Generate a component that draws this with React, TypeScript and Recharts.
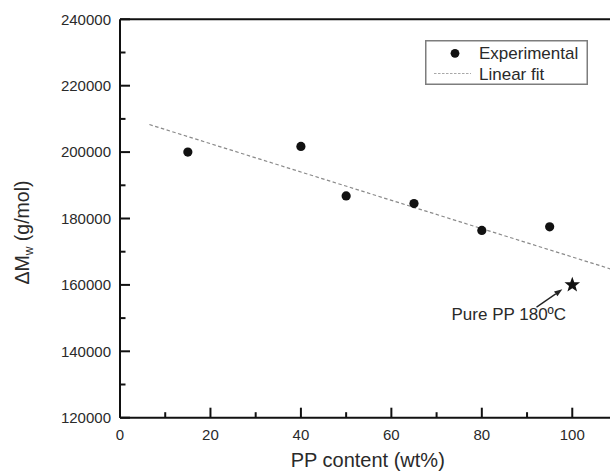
import React from 'react';
import {
  ScatterChart,
  Scatter,
  XAxis,
  YAxis,
  Legend,
  ReferenceDot,
} from 'recharts';

// Measured molecular-weight change versus PP content
const ppContent = [15, 40, 50, 65, 80, 95];
const deltaMw = [200000, 201700, 186800, 184500, 176400, 177500];

// Pure PP reference run at 180 °C
const purePPContent = [100];
const purePPDeltaMw = [160000];

// End points of the linear fit
const fitContent = [6.5, 110];
const fitDeltaMw = [208300, 164150];

// Axis ticks (minor + major)
const xTicks = [0, 10, 20, 30, 40, 50, 60, 70, 80, 90, 100, 110];
const yTicks = [
  120000, 130000, 140000, 150000, 160000, 170000, 180000, 190000, 200000,
  210000, 220000, 230000, 240000,
];
const xMajorStep = 20;
const yMajorStep = 20000;

// Annotation anchor points (data coordinates)
const noteText = 'Pure PP 180ºC';
const notePos = { x: 73.3, y: 149300 };
const arrowFrom = { x: 92.1, y: 153300 };
const arrowTo = { x: 97.8, y: 158675 };

const expData = ppContent.map((x, i) => ({ x, y: deltaMw[i] }));
const pureData = purePPContent.map((x, i) => ({ x, y: purePPDeltaMw[i] }));
const fitData = fitContent.map((x, i) => ({ x, y: fitDeltaMw[i] }));
const arrowData = [arrowFrom, arrowTo];

const FONT = '"Liberation Sans", Arial, Helvetica, sans-serif';
const INK = '#111';
const TEXT = '#2a2a2a';
const MAJOR = 10;
const MINOR = 5.5;

const BottomTick = (p: any) => {
  const v = p.payload.value;
  const major = v % xMajorStep === 0;
  return (
    <g>
      <line x1={p.x} x2={p.x} y1={p.y} y2={p.y - (major ? MAJOR : MINOR)} stroke={INK} strokeWidth={2} />
      {major && (
        <text x={p.x} y={p.y + 21.8} textAnchor="middle" fontSize={15} fill={TEXT} fontFamily={FONT}>
          {v}
        </text>
      )}
    </g>
  );
};

const TopTick = (p: any) => {
  const v = p.payload.value;
  const major = v % xMajorStep === 0;
  return <line x1={p.x} x2={p.x} y1={p.y} y2={p.y + (major ? MAJOR : MINOR)} stroke={INK} strokeWidth={2} />;
};

const LeftTick = (p: any) => {
  const v = p.payload.value;
  const major = v % yMajorStep === 0;
  return (
    <g>
      <line x1={p.x} x2={p.x + (major ? MAJOR : MINOR)} y1={p.y} y2={p.y} stroke={INK} strokeWidth={2} />
      {major && (
        <text x={p.x - 9} y={p.y + 5.3} textAnchor="end" fontSize={15} fill={TEXT} fontFamily={FONT}>
          {v}
        </text>
      )}
    </g>
  );
};

const RightTick = (p: any) => {
  const v = p.payload.value;
  const major = v % yMajorStep === 0;
  return <line x1={p.x} x2={p.x - (major ? MAJOR : MINOR)} y1={p.y} y2={p.y} stroke={INK} strokeWidth={2} />;
};

const YTitle = (p: any) => {
  const vb = p.viewBox || { x: 0, y: 0, width: 0, height: 0 };
  const cx = vb.x + 28.5;
  const cy = vb.y + vb.height / 2 + 14;
  return (
    <text
      x={cx}
      y={cy}
      transform={`rotate(-90, ${cx}, ${cy})`}
      textAnchor="middle"
      fontSize={19.5}
      fill={TEXT}
      fontFamily={FONT}
    >
      ΔM
      <tspan dy={4} fontSize={12}>w</tspan>
      <tspan dy={-4}> (g/mol)</tspan>
    </text>
  );
};

const XTitle = (p: any) => {
  const vb = p.viewBox || { x: 0, y: 0, width: 0, height: 0 };
  return (
    <text
      x={vb.x + vb.width / 2 - 1}
      y={vb.y + 49}
      textAnchor="middle"
      fontSize={20}
      fill={TEXT}
      fontFamily={FONT}
    >
      PP content (wt%)
    </text>
  );
};

const Dot = (p: any) => <circle cx={p.cx} cy={p.cy} r={4.6} fill={INK} />;

const Star = (p: any) => {
  const R = 8.2;
  const r = 3.4;
  const pts: string[] = [];
  for (let k = 0; k < 10; k++) {
    const rad = k % 2 === 0 ? R : r;
    const a = -Math.PI / 2 + (k * Math.PI) / 5;
    pts.push(`${p.cx + rad * Math.cos(a)},${p.cy + rad * Math.sin(a)}`);
  }
  return <polygon points={pts.join(' ')} fill={INK} />;
};

const NoShape = () => <g />;

// Arrow drawn between the two scaled points of the annotation series
const ArrowLine = (p: any) => {
  const pts = p.points || [];
  if (pts.length < 2) return <g />;
  const x1 = pts[0].x;
  const y1 = pts[0].y;
  const x2 = pts[1].x;
  const y2 = pts[1].y;
  const dx = x2 - x1;
  const dy = y2 - y1;
  const len = Math.sqrt(dx * dx + dy * dy) || 1;
  const ux = dx / len;
  const uy = dy / len;
  const hl = 8;
  const hw = 3;
  const bx = x2 - ux * hl;
  const by = y2 - uy * hl;
  return (
    <g>
      <line x1={x1} y1={y1} x2={bx} y2={by} stroke="#222" strokeWidth={1.3} />
      <polygon
        points={`${x2},${y2} ${bx - uy * hw},${by + ux * hw} ${bx + uy * hw},${by - ux * hw}`}
        fill="#222"
      />
    </g>
  );
};

const NoteLabel = (p: any) => (
  <text x={p.cx} y={p.cy} textAnchor="start" fontSize={17} fill={TEXT} fontFamily={FONT}>
    {noteText}
  </text>
);

const LegendBox = () => (
  <svg width={163} height={45} style={{ display: 'block' }}>
    <rect x={0.75} y={0.75} width={161.5} height={43.5} fill="#fff" stroke="#7d7d7d" strokeWidth={1.5} />
    <circle cx={30} cy={13.3} r={4.4} fill={INK} />
    <text x={54} y={19.3} fontSize={17} fill={TEXT} fontFamily={FONT}>
      Experimental
    </text>
    <line x1={9} x2={46} y1={33.5} y2={33.5} stroke="#a8a8a8" strokeWidth={1.2} strokeDasharray="2.5 1.5" />
    <text x={54} y={40} fontSize={17} fill={TEXT} fontFamily={FONT}>
      Linear fit
    </text>
  </svg>
);

export default function App() {
  return (
    <div
      style={{
        position: 'absolute',
        left: 0,
        top: 0,
        width: 610,
        height: 474,
        overflow: 'hidden',
        background: '#fff',
      }}
    >
      <ScatterChart
        width={640}
        height={474}
        margin={{ top: 18.3, right: 21.5, bottom: 0, left: 0 }}
      >
        <XAxis
          xAxisId="b"
          type="number"
          dataKey="x"
          domain={[0, 110]}
          ticks={xTicks}
          interval={0}
          orientation="bottom"
          height={56.3}
          tickSize={0}
          tickMargin={0}
          tickLine={false}
          axisLine={{ stroke: INK, strokeWidth: 2 }}
          tick={BottomTick}
          label={{ content: XTitle }}
        />
        <XAxis
          xAxisId="t"
          type="number"
          dataKey="x"
          domain={[0, 110]}
          ticks={xTicks}
          interval={0}
          orientation="top"
          height={1}
          tickSize={0}
          tickMargin={0}
          tickLine={false}
          axisLine={{ stroke: INK, strokeWidth: 2 }}
          tick={TopTick}
        />
        <YAxis
          yAxisId="l"
          type="number"
          dataKey="y"
          domain={[120000, 240000]}
          ticks={yTicks}
          interval={0}
          orientation="left"
          width={120}
          tickSize={0}
          tickMargin={0}
          tickLine={false}
          axisLine={{ stroke: INK, strokeWidth: 2 }}
          tick={LeftTick}
          label={{ content: YTitle }}
        />
        <YAxis
          yAxisId="r"
          type="number"
          dataKey="y"
          domain={[120000, 240000]}
          ticks={yTicks}
          interval={0}
          orientation="right"
          width={1}
          tickSize={0}
          tickMargin={0}
          tickLine={false}
          axisLine={{ stroke: INK, strokeWidth: 2 }}
          tick={RightTick}
        />
        <Legend
          layout="vertical"
          align="center"
          verticalAlign="middle"
          content={LegendBox}
          wrapperStyle={{ left: 425, top: 40, width: 163, height: 45 }}
        />
        <Scatter
          name="Linear fit"
          xAxisId="b"
          yAxisId="l"
          data={fitData}
          line={{ stroke: '#8a8a8a', strokeWidth: 1.2, strokeDasharray: '3.5 2.5' }}
          shape={NoShape}
          isAnimationActive={false}
        />
        <Scatter
          name="Experimental"
          xAxisId="b"
          yAxisId="l"
          data={expData}
          shape={Dot}
          isAnimationActive={false}
        />
        <Scatter
          name="Pure PP"
          xAxisId="b"
          yAxisId="l"
          data={pureData}
          shape={Star}
          isAnimationActive={false}
        />
        <Scatter
          name="Annotation arrow"
          xAxisId="b"
          yAxisId="l"
          data={arrowData}
          line={ArrowLine}
          shape={NoShape}
          isAnimationActive={false}
        />
        <ReferenceDot
          xAxisId="b"
          yAxisId="l"
          x={notePos.x}
          y={notePos.y}
          r={0}
          ifOverflow="visible"
          shape={NoteLabel}
        />
      </ScatterChart>
    </div>
  );
}
